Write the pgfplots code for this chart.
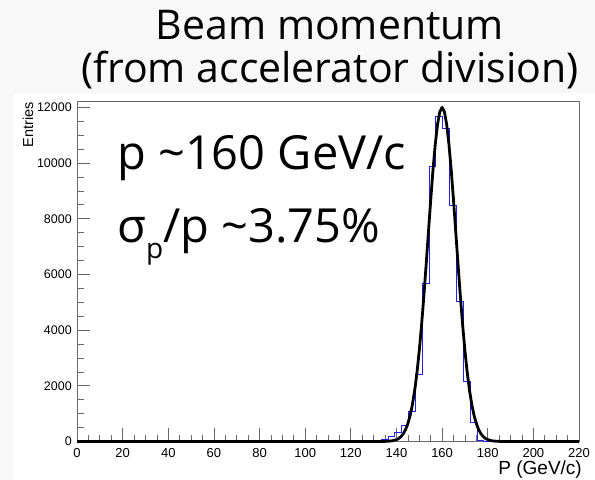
\documentclass[border=0pt]{standalone}
\usepackage{fontspec}
\setmainfont{Open Sans}
\newfontfamily\helv{Liberation Sans}
\usepackage{pgfplots}
\pgfplotsset{compat=1.18}
\definecolor{slidebg}{RGB}{248,248,248}
\definecolor{axgray}{RGB}{105,105,105}
\definecolor{histblue}{RGB}{35,35,235}
\begin{document}
\begin{tikzpicture}[x=1bp,y=1bp]
\fill[slidebg] (0,0) rectangle (595,480);
\fill[white] (14,0) rectangle (595,387);
\begin{axis}[
  at={(77bp,38.5bp)}, anchor=south west,
  width=502bp, height=340.5bp, scale only axis,
  xmin=0, xmax=220, ymin=0, ymax=12230,
  clip=false,
  axis line style={axgray, line width=0.8bp},
  xtick={0,20,...,220}, ytick={0,2000,...,12000},
  minor x tick num=3, minor y tick num=3,
  tick align=inside, xtick pos=bottom, ytick pos=left,
  major tick length=13bp, minor tick length=6.5bp,
  tick style={axgray, line width=0.7bp},
  scaled ticks=false,
  /pgf/number format/1000 sep={},
  /pgf/number format/assume math mode=true,
  xticklabel style={font=\helv\fontsize{13bp}{13bp}\selectfont, inner sep=0pt, yshift=-6.5bp},
  yticklabel style={font=\helv\fontsize{12.5bp}{12.5bp}\selectfont, inner sep=0pt, xshift=-5bp},
]
\addplot[const plot mark left, histblue, line width=0.9bp] coordinates {
(0,0) (127.3,30) (130.3,40) (133.3,70) (136.3,170) (139.3,340) (142.3,590)
(145.3,1080) (148.3,2400) (151.3,5680) (154.3,9890) (157.3,11660) (160.3,11250)
(163.3,8490) (166.3,5020) (169.3,2150) (172.3,670) (175.3,50) (178.3,0) (220,0)};
\addplot[black, line width=2.8bp, line join=round] coordinates {
(0,0) (133,0) (136,7) (138,22) (140,66) (141,110) (142,177) (143,280) (144,430)
(145,643) (146,937) (147,1332) (148,1844) (149,2486) (150,3268) (151,4184)
(152,5220) (153,6344) (154,7513) (155,8669) (156,9745) (157,10674) (158,11392)
(159,11845) (160,12000) (161,11845) (162,11392) (163,10674) (164,9745)
(165,8669) (166,7513) (167,6344) (168,5220) (169,4184) (170,3268) (171,2486)
(172,1844) (173,1332) (174,937) (175,643) (176,430) (177,280) (178,177)
(179,110) (180,66) (182,22) (184,7) (187,0) (220,0)};
\end{axis}
\node[anchor=base, font=\fontsize{41bp}{41bp}\selectfont] at (330,440) {Beam momentum};
\node[anchor=base, font=\fontsize{41bp}{41bp}\selectfont] at (330,397) {(from accelerator division)};
\node[anchor=base west, inner sep=0pt, font=\fontsize{47bp}{47bp}\selectfont] at (117,310) {p \char"7E 160 GeV/c};
\node[anchor=base west, inner sep=0pt, font=\fontsize{47bp}{47bp}\selectfont] at (117,237) {σ\raisebox{-0.32em}{\fontsize{28bp}{28bp}\selectfont p}/p \char"7E 3.75\%};
\node[rotate=90, anchor=base east, inner sep=0pt, font=\helv\fontsize{14.5bp}{14.5bp}\selectfont] at (33,378) {Entries};
\node[anchor=base east, inner sep=0pt, font=\helv\fontsize{19bp}{19bp}\selectfont] at (582,5) {P (GeV/c)};
\end{tikzpicture}
\end{document}
